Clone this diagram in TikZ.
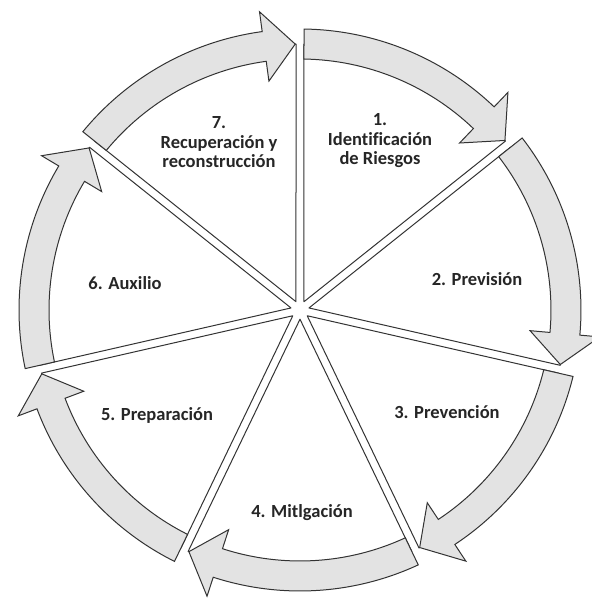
\documentclass[tikz,border=0pt]{standalone}
\usepackage{fontspec}
\setmainfont{Carlito}[Ligatures=NoCommon]

\begin{document}
\begin{tikzpicture}[x=1pt, y=1pt]
	\tikzstyle{wedgeStyle} = [draw=black!80, line width=1pt, fill=white, line join=round]
	\tikzstyle{arrowStyle} = [draw=black!80, line width=1pt, fill=black!11, line join=miter]
	\tikzstyle{labelStyle} = [align=center, text=black!85, font=\fontsize{18.5}{19.5}\selectfont\bfseries]
	\tikzset{pics/sector/.style = {code = {\path[wedgeStyle] (64.29:9.22) -- (89.14:266) arc[start angle=89.14, end angle=39.43, radius=266] -- cycle;}}}
	\tikzset{pics/cycleArrow/.style = {code = {\path[arrowStyle] (89.18:281) arc[start angle=89.18, end angle=46.3, radius=281] -- (46.3:301) -- (39.6:266) -- (46.3:231) -- (46.3:251) arc[start angle=46.3, end angle=89.09, radius=251] -- cycle;}}}
	\useasboundingbox (-300,-288) rectangle (292,310);
	% the seven slices
	\pic[rotate=0] {sector};
	\pic[rotate=-51.43] {sector};
	\pic[rotate=-102.86] {sector};
	\pic[rotate=-154.29] {sector};
	\pic[rotate=-205.71] {sector};
	\pic[rotate=-257.14] {sector};
	\pic[rotate=-308.57] {sector};
	% arrows round the cycle
	\pic[rotate=0] {cycleArrow};
	\pic[rotate=-51.43] {cycleArrow};
	\pic[rotate=-102.86] {cycleArrow};
	\pic[rotate=-154.29] {cycleArrow};
	\pic[rotate=-205.71] {cycleArrow};
	\pic[rotate=-257.14] {cycleArrow};
	\pic[rotate=-308.57] {cycleArrow};
	\node[labelStyle] (s1) at (80,169) {1.\\Identificación\\de Riesgos};
	\node[labelStyle] (s2) at (177,31) {2. Previsión};
	\node[labelStyle] (s3) at (147,-102) {3. Prevención};
	\node[labelStyle] (s4) at (2,-203) {4. Mitlgación};
	\node[labelStyle] (s5) at (-143,-105) {5. Preparación};
	\node[labelStyle] (s6) at (-175,27) {6. Auxilio};
	\node[labelStyle] (s7) at (-81,167.5) {7.\\Recuperación y\\reconstrucción};
\end{tikzpicture}
\end{document}
